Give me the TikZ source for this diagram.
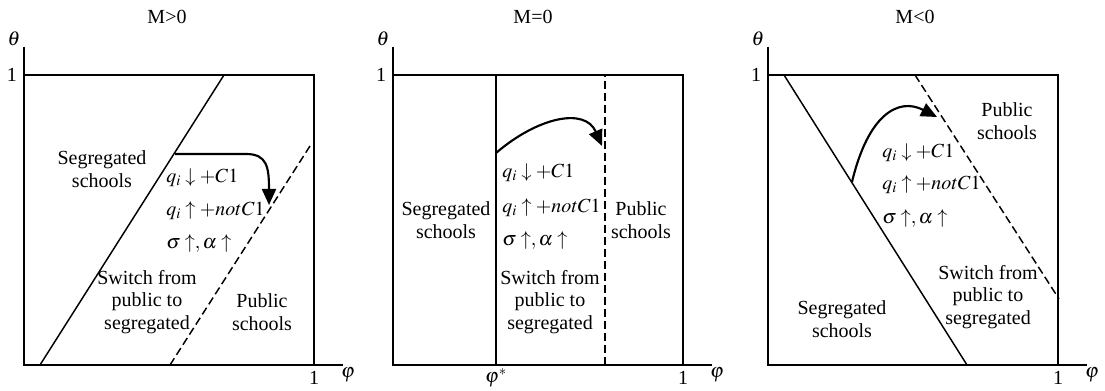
\documentclass[tikz,border=0pt]{standalone}
\usepackage{mathptmx}
\usepackage{fontspec}
\setmainfont{Liberation Serif}
\usetikzlibrary{arrows.meta}

% axes, frame and tick labels of one panel
\newcommand{\panelaxes}[1]{%
  \coordinate (#1o) at (0,0);
  \coordinate (#1ytop) at (0,318);
  \coordinate (#1xend) at (319,0);
  \coordinate (#1tl) at (0,290);
  \coordinate (#1tr) at (290,290);
  \coordinate (#1br) at (290,0);
  \draw[frame] (#1ytop) -- (#1o) -- (#1xend);
  \draw[frame] (#1tl) -- (#1tr) -- (#1br);
  \node[lbl] (#1theta) at (-10,326) {$\theta$};
  \node[lbl] (#1one) at (-12,290) {1};
  \node[lbl] (#1xone) at (290,-13) {1};
  \node[lbl] (#1phi) at (324,-10) {$\varphi$};
}

\begin{document}
\begin{tikzpicture}[
  x=0.75pt, y=0.75pt,
  frame/.style={line width=1.3pt},
  border/.style={line width=1.1pt},
  divide/.style={line width=1.1pt, dash pattern=on 6pt off 3pt},
  flow/.style={line width=1.6pt, -{Triangle[length=12pt,width=10.5pt]}},
  lbl/.style={font=\fontsize{15}{17}\selectfont, align=center, inner sep=0pt},
  eq/.style={font=\fontsize{15}{17}\selectfont, anchor=west, inner sep=0pt}
]
\useasboundingbox (0,0) rectangle (1105,391);

% M>0
\begin{scope}[shift={(24,26)}]
\panelaxes{a}
\draw[border] (16,0) coordinate (a1) -- (200,290) coordinate (a2);
\draw[divide] (146,0) coordinate (a3) -- (286,219) coordinate (a4);
\coordinate (as) at (151,211);
\coordinate (at) at (245,160);
\draw[flow] (as) -- (222,211) .. controls (243,211) and (245,198) .. (at);
\node[lbl] (atitle) at (143,348) {M>0};
\node[lbl] (aseg) at (78,196) {Segregated\\schools};
\node[eq] (aq1) at (142,187) {$q_i\downarrow+C1$};
\node[eq] (aq2) at (142,154) {$q_i\uparrow+notC1$};
\node[eq] (aq3) at (142,122) {$\sigma\uparrow,\alpha\uparrow$};
\node[lbl] (asw) at (123,63) {Switch from\\public to\\segregated};
\node[lbl] (apub) at (238,53) {Public\\schools};
\end{scope}

% M=0
\begin{scope}[shift={(393,26)}]
\panelaxes{b}
\draw[frame] (103,0) coordinate (b1) -- (103,290) coordinate (b2);
\draw[divide] (212,0) coordinate (b3) -- (212,290) coordinate (b4);
\coordinate (bs) at (103,212);
\coordinate (bt) at (209,219);
\draw[flow] (bs) .. controls (145,248) and (192,258) .. (bt);
\node[lbl] (btitle) at (140,348) {M=0};
\node[lbl] (bstar) at (103,-13) {$\varphi^*$};
\node[lbl] (bseg) at (53,145) {Segregated\\schools};
\node[eq] (bq1) at (109,192) {$q_i\downarrow+C1$};
\node[eq] (bq2) at (109,157) {$q_i\uparrow+notC1$};
\node[eq] (bq3) at (109,125) {$\sigma\uparrow,\alpha\uparrow$};
\node[lbl] (bpub) at (248,145) {Public\\schools};
\node[lbl] (bsw) at (157,63) {Switch from\\public to\\segregated};
\end{scope}

% M<0
\begin{scope}[shift={(768,26)}]
\panelaxes{c}
\draw[border] (16,290) coordinate (c1) -- (199,0) coordinate (c2);
\draw[divide] (147,290) coordinate (c3) -- (291,66) coordinate (c4);
\coordinate (cs) at (84,183);
\coordinate (ct) at (169,248);
\draw[flow] (cs) .. controls (100,250) and (130,268) .. (ct);
\node[lbl] (ctitle) at (147,348) {M<0};
\node[lbl] (cpub) at (239,244) {Public\\schools};
\node[eq] (cq1) at (114,212) {$q_i\downarrow+C1$};
\node[eq] (cq2) at (114,180) {$q_i\uparrow+notC1$};
\node[eq] (cq3) at (114,147) {$\sigma\uparrow,\alpha\uparrow$};
\node[lbl] (csw) at (220,68) {Switch from\\public to\\segregated};
\node[lbl] (cseg) at (74,46) {Segregated\\schools};
\end{scope}
\end{tikzpicture}
\end{document}
